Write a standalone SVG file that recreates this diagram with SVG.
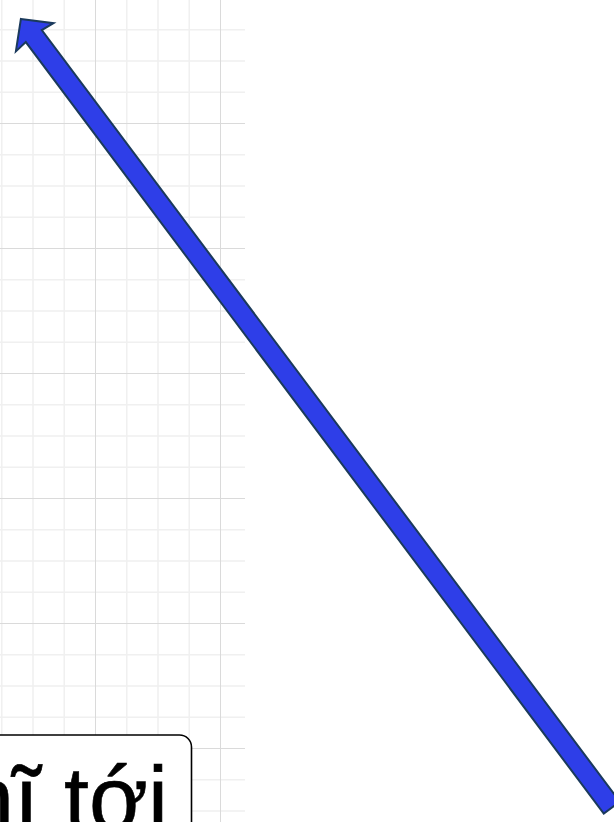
<svg xmlns="http://www.w3.org/2000/svg" width="614" height="822" viewBox="0 0 614 822">
  <style>
    .minor { stroke: #f0f0f0; stroke-width: 1.5; fill: none; }
    .major { stroke: #dadada; stroke-width: 1; fill: none; }
    .box { fill: #ffffff; stroke: #000000; stroke-width: 1.6; }
    .label { font-family: "Liberation Sans", Arial, sans-serif; font-size: 90px; fill: #000000; stroke: #000000; stroke-width: 0.6; }
    .arrow { fill: #2e3ee8; stroke: #1b3a5c; stroke-width: 2; stroke-linejoin: miter; stroke-miterlimit: 10; }
  </style>
  <rect x="0" y="0" width="614" height="822" fill="#ffffff"/>
  <g id="grid">
    <path class="minor" d="M1.75 0V822M33 0V822M64.25 0V822M126.75 0V822M158 0V822M189.25 0V822M0 29.75H245M0 61H245M0 92.25H245M0 154.75H245M0 186H245M0 217.25H245M0 279.75H245M0 311H245M0 342.25H245M0 404.75H245M0 436H245M0 467.25H245M0 529.75H245M0 561H245M0 592.25H245M0 654.75H245M0 686H245M0 717.25H245M0 779.75H245M0 811H245"/>
    <path class="major" d="M95.5 0V822M220.5 0V822M0 123.5H245M0 248.5H245M0 373.5H245M0 498.5H245M0 623.5H245M0 748.5H245"/>
  </g>
  <g id="node-label">
    <rect class="box" x="-200" y="735" width="391.5" height="140" rx="12" ry="12"/>
    <text class="label" x="168" y="830" text-anchor="end">nĩ tới</text>
  </g>
  <g id="connectors">
    <path class="arrow" transform="translate(20,17.7) rotate(53.16)" d="M1.5 0L24.5 -23.5L23 -10L987 -10L987 10L23 10L24.5 23.5Z"/>
  </g>
</svg>
